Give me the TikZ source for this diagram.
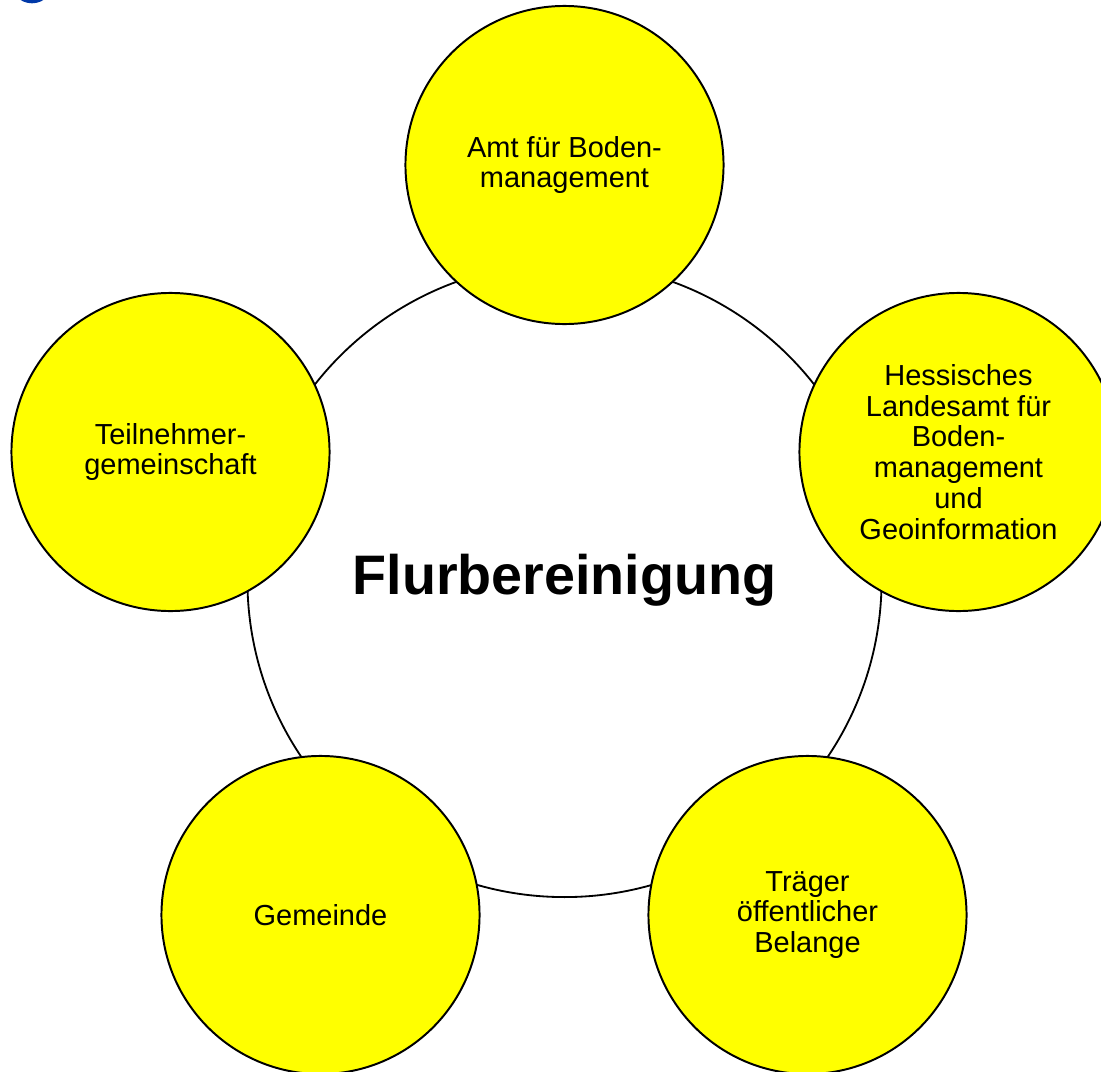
\documentclass[tikz,border=0pt]{standalone}
\usepackage{fontspec}
\setmainfont{Liberation Sans}
\definecolor{partneryellow}{RGB}{255,255,0}
\definecolor{logoblue}{RGB}{0,56,168}

\begin{document}
\begin{tikzpicture}[x=0.025cm, y=-0.025cm,
    partner/.style={circle, draw=black, line width=1.4pt, fill=partneryellow,
      minimum size=7.95cm, inner sep=0pt, align=center,
      font=\fontsize{20.6}{21.9}\selectfont},
    ring/.style={circle, draw=black, line width=1.3pt, minimum size=15.85cm,
      inner sep=0pt, font=\bfseries\fontsize{39.6}{44}\selectfont}]
  \useasboundingbox (0,0) rectangle (1101,1072);
  \clip (0,0) rectangle (1101,1072);
  \fill [logoblue] (32,-18.3) circle (0.54cm);                    % cut-off logo
  \node [ring] (flur) at (564.5,580) {Flurbereinigung};            % big ring
  \node [partner] (amt) at (564.5,165) {Amt für Boden-\\management};
  \node [partner] (hlbg) at (958.5,452) {Hessisches\\Landesamt für\\Boden-\\management\\und\\Geoinformation};
  \node [partner] (tg) at (170.5,452) {Teilnehmer-\\gemeinschaft};
  \node [partner] (gemeinde) at (320.5,915) {Gemeinde};
  \node [partner] (toeb) at (807.5,915) {Träger\\öffentlicher\\Belange};
\end{tikzpicture}
\end{document}
